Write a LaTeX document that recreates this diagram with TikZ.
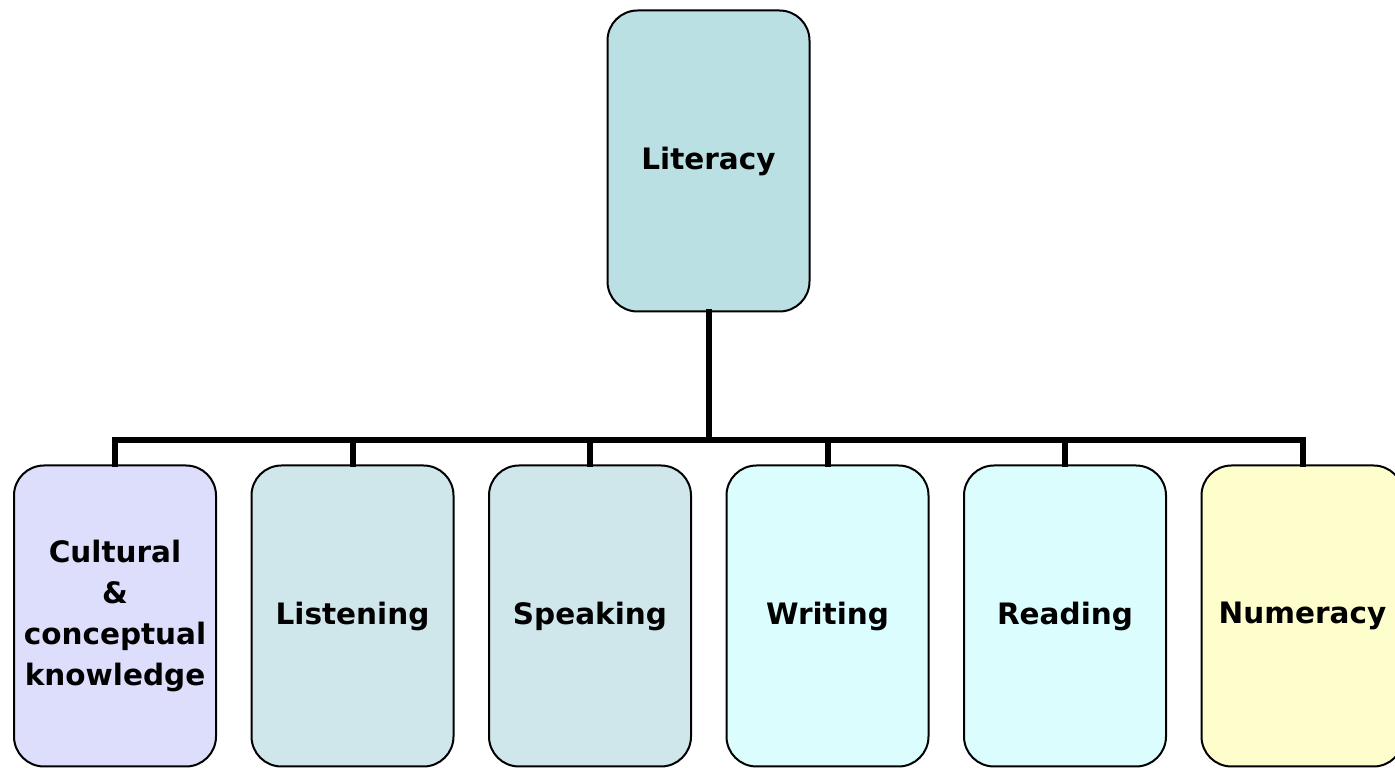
\documentclass[tikz,border=0pt]{standalone}
\usepackage{fontspec}
\setmainfont{DejaVu Sans}
\usepackage{tikz}

\definecolor{tete}{HTML}{BAE0E3}
\definecolor{lavande}{HTML}{DDDDFC}
\definecolor{oral}{HTML}{CFE7EA}
\definecolor{ecrit}{HTML}{DBFDFE}
\definecolor{calcul}{HTML}{FEFECC}

\begin{document}
\begin{tikzpicture}[x=1pt,y=1pt]
\tikzstyle{lien}=[line width=6pt,line cap=rect]
\tikzset{bloc/.style={draw,line width=2pt,fill=#1,rounded corners=30pt,
minimum width=202pt,minimum height=301pt,align=center,
font=\fontsize{29.5}{41}\selectfont\bfseries},
bloc/.default={white}}
\useasboundingbox (0,0) rectangle (1395,768);
\node[bloc=tete] (L) at (708.5,607) {Literacy};
\coordinate (bus) at (708.5,328);
\node[bloc=lavande] (C) at (115,152) {Cultural\\\&\\conceptual\\knowledge};
\node[bloc=oral] (E) at (352.5,152) {Listening};
\node[bloc=oral] (P) at (590,152) {Speaking};
\node[bloc=ecrit] (W) at (827.5,152) {Writing};
\node[bloc=ecrit] (R) at (1065,152) {Reading};
\node[bloc=calcul] (N) at (1302.5,152) {Numeracy};

\draw[lien] (L.south) -- (bus);
\draw[lien] (bus) -| (C.north);
\draw[lien] (bus) -| (E.north);
\draw[lien] (bus) -| (P.north);
\draw[lien] (bus) -| (W.north);
\draw[lien] (bus) -| (R.north);
\draw[lien] (bus) -| (N.north);

\end{tikzpicture}
\end{document}
